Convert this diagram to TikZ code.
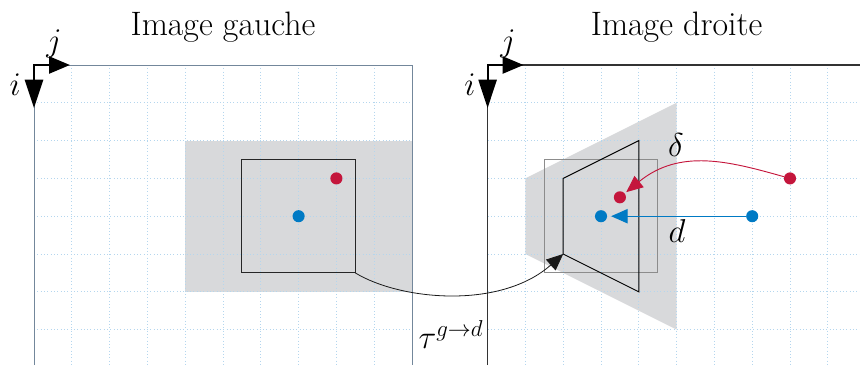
\documentclass[tikz,border=0pt]{standalone}
\usepackage{fontspec}
\usetikzlibrary{arrows.meta}
\definecolor{gridblue}{RGB}{180,214,238}
\definecolor{frameblue}{RGB}{115,135,155}
\definecolor{shadegray}{RGB}{216,217,219}
\definecolor{dotred}{RGB}{196,22,60}
\definecolor{dotblue}{RGB}{0,122,196}
\tikzset{
  gridline/.style={gridblue, dotted, line width=0.5pt},
  dotnode/.style={circle, inner sep=0pt, minimum size=0.32cm},
  title/.style={font=\fontsize{25.5}{30}\selectfont, anchor=base},
  lbl/.style={font=\fontsize{26}{30}\selectfont, inner sep=0pt},
  thin tip/.style={-{Triangle[length=0.44cm,width=0.38cm]}},
}
\begin{document}
\begin{tikzpicture}
\useasboundingbox (-0.8995,-7.9365) rectangle (21.852,1.7196);
% shaded regions
\fill[shadegray] (4,-2) rectangle (10,-6);
\fill[shadegray] (13,-3) -- (17,-1) -- (17,-7) -- (13,-5) -- cycle;
% grids
\foreach \x in {1,...,9} \draw[gridline] (\x,0) -- (\x,-7.94);
\foreach \y in {1,...,7} \draw[gridline] (0,-\y) -- (10,-\y);
\foreach \x in {13,...,21} \draw[gridline] (\x,0) -- (\x,-7.94);
\foreach \y in {1,...,7} \draw[gridline] (12,-\y) -- (21.86,-\y);
% frames
\draw[frameblue, line width=0.6pt] (0,-7.94) -- (0,0) -- (10,0) -- (10,-7.94);
\draw[black!80, line width=0.8pt] (12,-7.94) -- (12,0) -- (21.86,0);
% axes
\draw[line width=1.5pt, {Triangle[length=0.75cm,width=0.48cm]}-{Triangle[length=0.55cm,width=0.45cm]}]
  (0,-1.14) -- (0,0) -- (0.95,0);
\draw[line width=1.5pt, {Triangle[length=0.75cm,width=0.48cm]}-{Triangle[length=0.55cm,width=0.45cm]}]
  (12,-1.14) -- (12,0) -- (12.95,0);
\node[lbl] (jl) at (0.53,0.55) {$j$};
\node[lbl] (il) at (-0.5,-0.53) {$i$};
\node[lbl] (jr) at (12.54,0.55) {$j$};
\node[lbl] (ir) at (11.53,-0.53) {$i$};
% titles
\node[title] (tg) at (5,0.79) {Image gauche};
\node[title] (td) at (17,0.79) {Image droite};
% left rectangle
\draw[black!85, line width=0.8pt] (5.5,-2.5) rectangle (8.5,-5.5);
\coordinate (lc) at (8.5,-5.5);
% right gray rectangle and trapezoid
\draw[black!45, line width=0.8pt] (13.5,-2.5) rectangle (16.5,-5.5);
\draw[black, line width=0.7pt] (14,-3) -- (16,-2) -- (16,-6) -- (14,-5) -- cycle;
\coordinate (rc) at (14,-5);
% dots
\node[dotnode, fill=dotblue] (bl) at (7,-4) {};
\node[dotnode, fill=dotred] (rl) at (8,-3) {};
\node[dotnode, fill=dotblue] (br1) at (15,-4) {};
\node[dotnode, fill=dotblue] (br2) at (19,-4) {};
\node[dotnode, fill=dotred] (rr1) at (15.5,-3.5) {};
\node[dotnode, fill=dotred] (rr2) at (20,-3) {};
% transformation arrow
\draw[black!90, line width=0.6pt, thin tip] (lc) .. controls (9.68,-6.22) and (12.33,-6.48) .. (rc);
\node[lbl] (tau) at (11.03,-7.14) {$\tau^{g\rightarrow d}$};
% displacement arrows
\draw[dotblue, line width=0.9pt, thin tip, shorten >=0.1cm] (br2) -- (br1);
\node[lbl] (dl) at (17.01,-4.4) {$d$};
\draw[dotred, line width=0.7pt, thin tip, shorten >=0.05cm] (rr2) .. controls (18.4,-2.55) and (17.09,-2.2) .. (rr1);
\node[lbl] (del) at (16.98,-2.12) {$\delta$};
\end{tikzpicture}
\end{document}
